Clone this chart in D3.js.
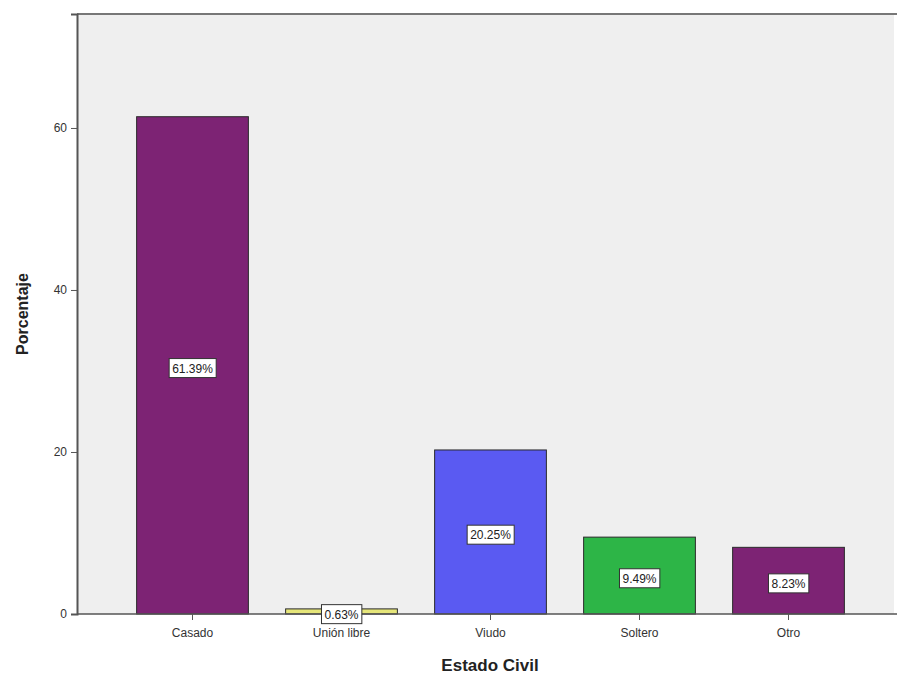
<!DOCTYPE html>
<html><head><meta charset="utf-8">
<script src="https://cdn.jsdelivr.net/npm/d3@7/dist/d3.min.js"></script>
<style>body{margin:0;background:#fff}svg{display:block}</style>
</head><body>
<script>
const categories = ["Casado", "Unión libre", "Viudo", "Soltero", "Otro"];
const values = [61.39, 0.63, 20.25, 9.49, 8.23];
const labels = ["61.39%", "0.63%", "20.25%", "9.49%", "8.23%"];
const colors = ["#7d2374", "#e6e67a", "#5a5af2", "#2db547", "#7d2374"];
const yTicks = [0, 20, 40, 60];

const W = 897, H = 681;
const pLeft = 77, pTop = 14, pRight = 894, pBottom = 614;
const svg = d3.select("body").append("svg").attr("width", W).attr("height", H);

const y = d3.scaleLinear().domain([0, 74.07]).range([pBottom, pTop]);
const x = d3.scaleBand().domain(categories).range([118, 863]).paddingInner(0.25).paddingOuter(0.125);

svg.append("rect").attr("x", pLeft).attr("y", pTop).attr("width", pRight - pLeft).attr("height", pBottom - pTop)
  .attr("fill", "#efefef");
svg.append("line").attr("x1", pLeft).attr("x2", W).attr("y1", pTop).attr("y2", pTop)
  .attr("stroke", "#777").attr("stroke-width", 2);

svg.selectAll("rect.bar").data(categories).enter().append("rect").attr("class", "bar")
  .attr("x", d => x(d)).attr("width", x.bandwidth())
  .attr("y", (d, i) => y(values[i])).attr("height", (d, i) => pBottom - y(values[i]))
  .attr("fill", (d, i) => colors[i]).attr("stroke", "#2a2a2a").attr("stroke-width", 1);

const yAxis = svg.append("g").attr("transform", `translate(${pLeft},0)`)
  .call(d3.axisLeft(y).tickValues(yTicks).tickSize(6).tickPadding(4));
yAxis.select(".domain").attr("stroke", "#555").attr("stroke-width", 2);
yAxis.selectAll(".tick line").attr("stroke", "#555");
yAxis.selectAll(".tick text").attr("font-family", "Liberation Sans, Arial, sans-serif")
  .attr("font-size", 12).attr("fill", "#333");

const xAxis = svg.append("g").attr("transform", `translate(0,${pBottom})`)
  .call(d3.axisBottom(x).tickSize(6).tickPadding(8).tickSizeOuter(0));
xAxis.select(".domain").attr("stroke", "#555").attr("stroke-width", 1.5).attr("d", `M${pLeft},0H${W}`);
xAxis.selectAll(".tick line").attr("stroke", "#555");
xAxis.selectAll(".tick text").attr("font-family", "Liberation Sans, Arial, sans-serif")
  .attr("font-size", 12).attr("fill", "#333");

const lg = svg.selectAll("g.lab").data(categories).enter().append("g").attr("class", "lab")
  .attr("transform", (d, i) => `translate(${x(d) + x.bandwidth() / 2},${(y(values[i]) + pBottom) / 2 + 3})`);
lg.append("text").text((d, i) => labels[i])
  .attr("text-anchor", "middle").attr("dy", "0.35em")
  .attr("font-family", "Liberation Sans, Arial, sans-serif").attr("font-size", 12).attr("fill", "#222");
lg.each(function() {
  const g = d3.select(this);
  const b = g.select("text").node().getBBox();
  g.insert("rect", "text").attr("x", b.x - 3).attr("y", b.y - 3)
    .attr("width", b.width + 6).attr("height", b.height + 5)
    .attr("fill", "#fff").attr("stroke", "#333").attr("stroke-width", 1);
});

svg.append("text").attr("transform", `translate(28,${(pTop + pBottom) / 2}) rotate(-90)`)
  .attr("text-anchor", "middle").attr("font-family", "Liberation Sans, Arial, sans-serif")
  .attr("font-weight", "bold").attr("font-size", 16).attr("fill", "#222").text("Porcentaje");
svg.append("text").attr("x", 490).attr("y", 671)
  .attr("text-anchor", "middle").attr("font-family", "Liberation Sans, Arial, sans-serif")
  .attr("font-weight", "bold").attr("font-size", 17).attr("fill", "#222").text("Estado Civil");
</script>
</body></html>
